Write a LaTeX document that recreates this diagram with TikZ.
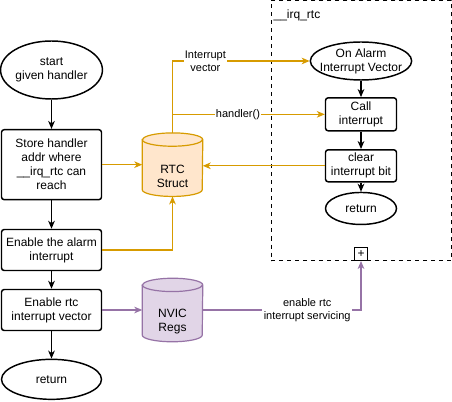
\documentclass[tikz,border=0pt]{standalone}
\usepackage{fontspec}
\setmainfont{Liberation Sans}
\usepackage{tikz}
\usetikzlibrary{shapes.geometric,arrows.meta,positioning}
\definecolor{rtcline}{HTML}{D79B00}
\definecolor{rtcfill}{HTML}{FFE6CC}
\definecolor{nvicline}{HTML}{9673A6}
\definecolor{nvicfill}{HTML}{E1D5E7}

% cylinder body round a named node: node, line colour, fill colour
\newcommand{\cylbody}[3]{%
  \draw[draw=#2, fill=#3, line width=0.9pt]
    ([yshift=-5pt]#1.north west) -- ([yshift=5pt]#1.south west)
    arc[start angle=180, end angle=360, x radius=22.5pt, y radius=5pt]
    -- ([yshift=-5pt]#1.north east)
    arc[start angle=0, end angle=180, x radius=22.5pt, y radius=5pt] -- cycle;
  \draw[draw=#2, line width=0.9pt] ([yshift=-5pt]#1.north west)
    arc[start angle=180, end angle=360, x radius=22.5pt, y radius=5pt];}

\begin{document}
\begin{tikzpicture}[x=0.75pt, y=-0.75pt, >={Stealth[length=6pt,width=5pt,inset=1.8pt]}, node distance=2cm, font=\fontsize{9}{10.5}\selectfont]
\tikzstyle{proc}=[draw, line width=1.1pt, rounded corners=2pt, align=center, inner sep=1pt]
\tikzstyle{term}=[draw, ellipse, line width=1.1pt, align=center, inner sep=0pt]
\tikzstyle{store}=[inner sep=0pt, minimum width=45pt, minimum height=47.25pt]
\tikzstyle{storetext}=[align=center, yshift=-9pt]
\tikzstyle{flow}=[->, line width=1pt]
\tikzstyle{orgflow}=[->, draw=rtcline, line width=0.8pt]
\tikzstyle{purflow}=[->, draw=nvicline, line width=0.8pt]
\tikzstyle{lbl}=[fill=white, align=center, inner sep=1pt, font=\fontsize{8.25}{9.5}\selectfont]

\useasboundingbox (0,0) rectangle (452,402);

% left column
\node[term, minimum width=75pt, minimum height=43.5pt] (start) at (51.5,70) {start\\given handler};
\node[proc, minimum width=75pt, minimum height=52.5pt] (store) [below of=start, node distance=71pt] {Store handler\\addr where\\\_\_irq\_rtc can\\reach};
\node[proc, minimum width=75pt, minimum height=30.75pt] (alarm) [below of=store, node distance=64pt] {Enable the alarm\\interrupt};
\node[proc, minimum width=75pt, minimum height=30.75pt] (enrtc) [below of=alarm, node distance=45pt] {Enable rtc\\interrupt vector};
\node[term, minimum width=75pt, minimum height=30pt] (ret) [below of=enrtc, node distance=52pt] {return};

% shared data
\node[store] (rtc) [right of=store, node distance=90.75pt] {};
\node[store] (nvic) [right of=enrtc, node distance=90.75pt] {};
\cylbody{rtc}{rtcline}{rtcfill}
\cylbody{nvic}{nvicline}{nvicfill}
\node[storetext] (rtctext) at (rtc.center) {RTC\\Struct};
\node[storetext] (nvictext) at (nvic.center) {NVIC\\Regs};

% __irq_rtc
\node[draw, dashed, line width=0.75pt, minimum width=135pt, minimum height=195pt, inner sep=0pt] (irq) at (361,130.5) {};
\node[anchor=west, inner sep=1pt] (irqname) at (272,15) {\_\_irq\_rtc};
\node[draw, line width=0.75pt, fill=white, minimum size=9.5pt, inner sep=0pt, anchor=south] (plus) at (irq.south) {+};

\node[term, minimum width=76pt, minimum height=28.5pt, inner xsep=-4pt] (onalarm) at (361,61) {On Alarm\\Interrupt Vector};
\node[proc, minimum width=53.25pt, minimum height=24.75pt] (call) [below of=onalarm, node distance=40pt] {Call\\interrupt};
\node[proc, minimum width=53.25pt, minimum height=24pt] (clear) [below of=call, node distance=38.6pt] {clear\\interrupt bit};
\node[term, minimum width=53.25pt, minimum height=24pt] (ret2) [below of=clear, node distance=32pt] {return};

\path[flow] (start) edge (store);
\path[flow] (store) edge (alarm);
\path[flow] (alarm) edge (enrtc);
\path[flow] (enrtc) edge (ret);
\path[flow] (onalarm) edge (call);
\path[flow] (call) edge (clear);
\path[flow] (clear) edge (ret2);

\draw[orgflow] (store) -- (rtc);
\draw[orgflow] (alarm.east) -| (rtc.south);
\draw[orgflow] (rtc.north) |- node[lbl, pos=0.62] {Interrupt\\vector} (onalarm.west);
\draw[orgflow] (rtc.north |- call.west) -- node[lbl, pos=0.43] {handler()} (call.west);
\draw[orgflow] (clear.west) -- (clear.west -| rtc.east);

\draw[purflow] (enrtc) -- (nvic);
\draw[purflow] (nvic.east) -| node[lbl, pos=0.33] {enable rtc\\interrupt servicing} (plus.south);
\end{tikzpicture}
\end{document}
